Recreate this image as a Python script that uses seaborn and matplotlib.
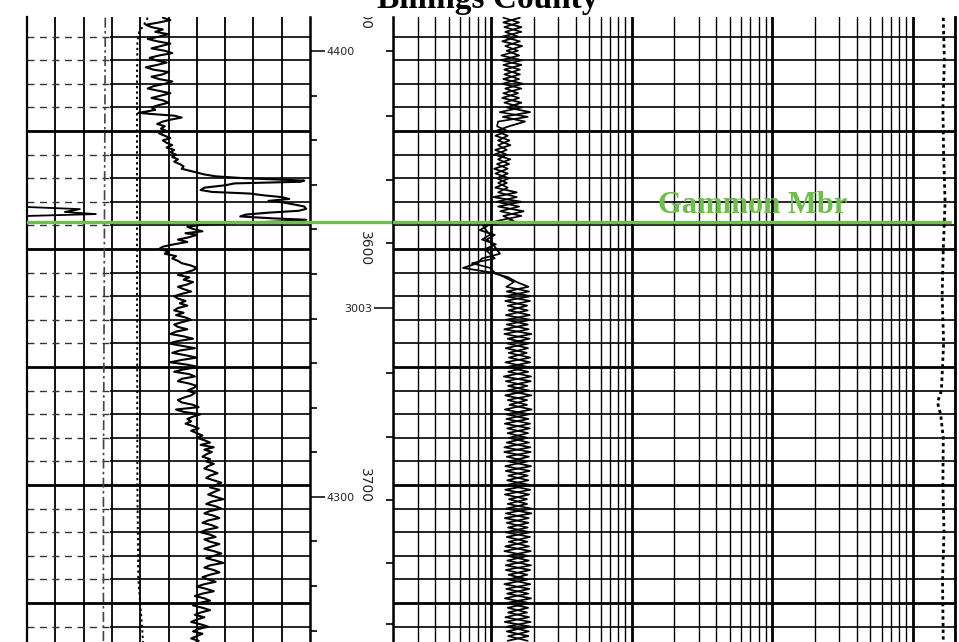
import numpy as np
import pandas as pd
import matplotlib
matplotlib.use("Agg")
import matplotlib.pyplot as plt
from matplotlib.ticker import LogLocator, NullFormatter, FixedLocator, FixedFormatter
import seaborn as sns

# ---------------- log data ----------------
# Gamma ray (API) vs measured depth (ft)
gr_depth = [
    3502, 3503, 3504, 3505, 3506, 3507, 3508, 3509, 3510, 3511,
    3512, 3513, 3514, 3515, 3516, 3517, 3518, 3519, 3520, 3521,
    3522, 3523, 3524, 3525, 3526, 3527, 3528, 3529, 3530, 3531,
    3532, 3533, 3534, 3535, 3536, 3537, 3538, 3539, 3540, 3541,
    3541.8, 3542.3, 3542.8, 3543.5, 3544.3, 3545.2, 3546, 3547, 3548, 3549,
    3550, 3551, 3552, 3553, 3554, 3555, 3556, 3557, 3558, 3559,
    3560, 3561, 3562, 3563, 3564, 3565, 3566, 3566.8, 3567.6, 3568.4,
    3569.2, 3570, 3570.6, 3571, 3571.5, 3572.2, 3573, 3574, 3575, 3575.8,
    3576.5, 3577.3, 3578, 3578.8, 3579.6, 3580.3, 3581.2, 3582, 3583, 3583.8,
    3584.6, 3585.4, 3586.2, 3587, 3587.6, 3588.3, 3589, 3589.8, 3590.6, 3591.5,
    3592.5, 3593.3, 3594, 3595, 3596, 3597, 3598, 3599, 3600, 3601,
    3602, 3603, 3604, 3605, 3606, 3607, 3608, 3609, 3610, 3611,
    3612, 3613, 3614, 3615, 3616, 3617, 3618, 3619, 3620, 3621,
    3622, 3623, 3624, 3625, 3626, 3627, 3628, 3629, 3630, 3631,
    3632, 3633, 3634, 3635, 3636, 3637, 3638, 3639, 3640, 3641,
    3642, 3643, 3644, 3645, 3646, 3647, 3648, 3649, 3650, 3651,
    3652, 3653, 3654, 3655, 3656, 3657, 3658, 3659, 3660, 3661,
    3662, 3663, 3664, 3665, 3666, 3667, 3668, 3669, 3670, 3671,
    3672, 3673, 3674, 3675, 3676, 3677, 3678, 3679, 3680, 3681,
    3682, 3683, 3684, 3685, 3686, 3687, 3688, 3689, 3690, 3691,
    3692, 3693, 3694, 3695, 3696, 3697, 3698, 3699, 3700, 3701,
    3702, 3703, 3704, 3705, 3706, 3707, 3708, 3709, 3710, 3711,
    3712, 3713, 3714, 3715, 3716, 3717, 3718, 3719, 3720, 3721,
    3722, 3723, 3724, 3725, 3726, 3727, 3728, 3729, 3730, 3731,
    3732, 3733, 3734, 3735, 3736, 3737, 3738, 3739, 3740, 3741,
    3742, 3743, 3744, 3745, 3746, 3747, 3748, 3749, 3750, 3751,
    3752, 3753, 3754, 3755, 3756, 3757, 3758, 3759, 3760, 3761,
    3762, 3763, 3764, 3765, 3766, 3767,
]
gr_api = [
    72, 76, 70, 63, 66, 72, 68, 75, 70, 64,
    69, 76, 71, 66, 73, 77, 70, 65, 68, 74,
    69, 63, 67, 75, 72, 66, 70, 77, 73, 67,
    64, 70, 76, 71, 66, 72, 75, 70, 66, 68,
    63, 59, 66, 78, 82, 76, 72, 69, 73, 71,
    74, 70, 73, 76, 72, 74, 77, 74, 78, 76,
    79, 77, 80, 78, 81, 83, 82, 86, 90, 94,
    100, 115, 135, 147, 145, 110, 105, 94, 92, 98,
    118, 126, 135, 139, 128, 136, 142, 147, 148, 144,
    128, 116, 113, 130, 148, 135, 110, 92, 85, 88,
    93, 84, 90, 86, 80, 85, 78, 72, 70, 75,
    73, 79, 77, 80, 82, 87, 90, 88, 84, 80,
    86, 83, 88, 85, 80, 83, 87, 82, 78, 80,
    84, 81, 85, 80, 78, 83, 79, 84, 87, 82,
    78, 80, 85, 79, 76, 83, 88, 80, 75, 82,
    89, 81, 77, 84, 90, 82, 76, 85, 91, 83,
    78, 86, 89, 82, 80, 86, 90, 88, 85, 89,
    87, 83, 80, 82, 88, 91, 79, 83, 92, 88,
    85, 87, 84, 88, 91, 87, 90, 93, 90, 94,
    97, 92, 99, 94, 98, 95, 93, 97, 95, 99,
    96, 94, 98, 101, 97, 95, 99, 103, 100, 97,
    102, 99, 96, 100, 104, 98, 95, 100, 103, 97,
    94, 99, 102, 96, 93, 98, 101, 95, 92, 97,
    100, 94, 97, 102, 98, 94, 99, 103, 99, 95,
    100, 104, 97, 94, 99, 102, 97, 93, 96, 100,
    94, 90, 95, 99, 93, 89, 94, 97, 91, 88,
    93, 97, 92, 89, 94, 90, 87, 92, 96, 91,
    88, 93, 90, 87, 91, 89,
]

# Caliper-type dotted trace and dash-dot trace in the gamma track
cal_depth = [3502, 3505, 3508, 3512, 3530, 3600, 3700, 3740, 3760, 3767]
cal_val = [64, 62, 59.5, 58.5, 58.3, 58.3, 58.5, 59, 61, 61.5]
bs_depth = [3502, 3600, 3700, 3767]
bs_val = [41.5, 41, 40.5, 40.5]

# SP excursion entering from the left edge of the track
sp_depth = [3582.2, 3583.1, 3584.3, 3585.2, 3586.0]
sp_val = [0, 28, 20, 36.5, 0]

# Resistivity (ohm-m), sampled every 2 ft from 3502 to 3766
res_depth = np.arange(3502, 3767, 2)
res_deep = [
    # 3502-3540
    1.60, 1.22, 1.64, 1.26, 1.55, 1.20, 1.66, 1.29, 1.58, 1.18,
    1.64, 1.24, 1.60, 1.22, 1.68, 1.26, 1.55, 1.20, 1.64, 1.29,
    # 3542-3546
    1.89, 1.21, 1.74,
    # 3548-3574
    1.34, 1.08, 1.31, 1.12, 1.37, 1.07, 1.29, 1.12, 1.34, 1.05,
    1.31, 1.10, 1.29, 1.07,
    # 3576-3588
    1.52, 1.04, 1.64, 1.12, 1.70, 1.22, 1.44,
    # 3590-3598
    0.95, 0.83, 1.06, 0.93, 1.03,
    # 3600-3614
    1.09, 1.155, 0.86, 0.80, 0.63, 1.01, 1.32, 1.52,
    # 3616-3766
    1.84, 1.29, 1.90, 1.26, 1.80, 1.33, 1.88, 1.28, 1.82, 1.24,
    1.93, 1.31, 1.85, 1.27, 1.79, 1.34, 1.89, 1.29, 1.83, 1.23,
    1.91, 1.32, 1.86, 1.26, 1.80, 1.35, 1.94, 1.28, 1.84, 1.25,
    1.88, 1.31, 1.81, 1.29, 1.90, 1.24, 1.85, 1.33, 1.92, 1.27,
    1.82, 1.30, 1.89, 1.26, 1.86, 1.34, 1.80, 1.28, 1.93, 1.25,
    1.84, 1.32, 1.88, 1.29, 1.81, 1.26, 1.91, 1.31, 1.85, 1.27,
    1.89, 1.33, 1.82, 1.24, 1.87, 1.30, 1.92, 1.28, 1.83, 1.32,
    1.86, 1.25, 1.90, 1.29, 1.84, 1.31,
]
res_shallow = [
    # 3502-3540
    1.22, 1.58, 1.24, 1.64, 1.20, 1.60, 1.26, 1.55, 1.18, 1.66,
    1.22, 1.60, 1.24, 1.58, 1.20, 1.64, 1.22, 1.58, 1.24, 1.66,
    # 3542-3546
    1.15, 1.82, 1.12,
    # 3548-3574
    1.10, 1.31, 1.07, 1.35, 1.12, 1.29, 1.05, 1.37, 1.10, 1.31,
    1.07, 1.34, 1.12, 1.31,
    # 3576-3588
    1.12, 1.52, 1.09, 1.58, 1.16, 1.64, 1.12,
    # 3590-3598
    0.87, 0.92, 0.98, 0.86, 1.08,
    # 3600-3614
    0.90, 0.98, 1.06, 0.73, 0.98, 1.06, 1.25, 1.45,
    # 3616-3766
    1.28, 1.86, 1.25, 1.89, 1.31, 1.82, 1.27, 1.91, 1.29, 1.85,
    1.24, 1.88, 1.30, 1.83, 1.33, 1.90, 1.26, 1.84, 1.32, 1.92,
    1.27, 1.81, 1.29, 1.93, 1.31, 1.80, 1.25, 1.87, 1.28, 1.89,
    1.30, 1.83, 1.33, 1.86, 1.24, 1.91, 1.29, 1.82, 1.26, 1.88,
    1.32, 1.84, 1.28, 1.90, 1.25, 1.80, 1.31, 1.94, 1.27, 1.85,
    1.29, 1.82, 1.26, 1.89, 1.33, 1.86, 1.24, 1.83, 1.30, 1.92,
    1.27, 1.81, 1.32, 1.90, 1.28, 1.84, 1.25, 1.88, 1.31, 1.80,
    1.26, 1.91, 1.29, 1.85, 1.32, 1.82,
]

# Dotted trace near the right edge of the resistivity track
far_depth = [3502, 3520, 3540, 3560, 3580, 3600, 3620, 3640, 3660, 3665,
             3670, 3680, 3700, 3720, 3740, 3766]
far_val = [1650, 1680, 1640, 1660, 1700, 1650, 1620, 1660, 1600, 1500,
           1580, 1650, 1640, 1670, 1630, 1650]

# Formation top
gammon_top = 3588.6
gammon_label = "Gammon Mbr"
title = "Billings County"

# Depth annotations
depth_marks = [3500, 3600, 3700]
depth_mark_labels = ["3500", "3600", "3700"]
gr_ticks = [3535.0, 3553.9, 3572.8, 3591.7, 3610.6, 3629.5, 3648.3, 3667.2,
            3686.1, 3723.9, 3742.8, 3761.7]
gr_label_ticks = [3516.1, 3705.0]
gr_label_text = ["4400", "4300"]
res_ticks = [3516.1, 3543.6, 3570.8, 3597.5, 3652.5, 3679.7, 3706.4, 3733.0, 3758.9]
res_label_ticks = [3625.0]
res_label_text = ["3003"]

depth_top, depth_bot = 3501.7, 3766.5

# ---------------- figure ----------------
sns.set_theme(style="white")
plt.rcParams["font.family"] = ["DejaVu Sans"]

W, H = 959, 642
fig = plt.figure(figsize=(W / 100, H / 100), dpi=100)
top_px = 17


def rect(x0, x1):
    return [x0 / W, 0, (x1 - x0) / W, (H - top_px) / H]


ax_gr = fig.add_axes(rect(27, 310))
ax_mid = fig.add_axes(rect(310, 393))
ax_res = fig.add_axes(rect(393, 955))
ax_mid.patch.set_visible(False)

green = "#6cbf48"
grid_depths = list(range(3510, 3770, 10))

# ---- gamma ray track ----
gr_df = pd.DataFrame({"depth": gr_depth, "gr": gr_api})
sns.lineplot(data=gr_df, x="gr", y="depth", sort=False, estimator=None,
             orient="y", color="black", lw=1.5, ax=ax_gr, zorder=5)
sns.lineplot(x=cal_val, y=cal_depth, sort=False, estimator=None, orient="y",
             color="black", lw=1.4, linestyle=(0, (1.2, 1.6)), ax=ax_gr, zorder=4)
sns.lineplot(x=bs_val, y=bs_depth, sort=False, estimator=None, orient="y",
             color="#444444", lw=1.2, linestyle=(0, (6, 2, 1.5, 2)), ax=ax_gr, zorder=4)
sns.lineplot(x=sp_val, y=sp_depth, sort=False, estimator=None, orient="y",
             color="black", lw=1.3, ax=ax_gr, zorder=4)

ax_gr.set_xlim(0, 150)
for v in range(15, 150, 15):
    ax_gr.axvline(v, color="black", lw=1.3, zorder=1)
for d in grid_depths:
    if d % 50 == 0:
        ax_gr.axhline(d, color="black", lw=2.0, zorder=1)
    else:
        ax_gr.hlines(d, 0, 44, colors="#333333", lw=1.0, linestyles=[(0, (5, 4))], zorder=1)
        ax_gr.hlines(d, 44, 150, colors="black", lw=1.2, zorder=1)

ax_gr.set_xticks([])
ax_gr.yaxis.tick_right()
ax_gr.yaxis.set_major_locator(FixedLocator(gr_ticks))
ax_gr.yaxis.set_major_formatter(NullFormatter())
ax_gr.yaxis.set_minor_locator(FixedLocator(gr_label_ticks))
ax_gr.yaxis.set_minor_formatter(FixedFormatter(gr_label_text))
ax_gr.tick_params(axis="y", which="major", direction="out", length=5, width=1.2,
                  color="black", right=True, left=False, labelright=False, labelleft=False)
ax_gr.tick_params(axis="y", which="minor", direction="out", length=11, width=1.1,
                  color="black", right=True, left=False, labelright=True, labelleft=False,
                  labelsize=8, pad=1)

# ---- resistivity track ----
ax_res.set_xscale("log")
res_df = pd.DataFrame({"depth": res_depth, "deep": res_deep, "shallow": res_shallow})
sns.lineplot(data=res_df, x="deep", y="depth", sort=False, estimator=None,
             orient="y", color="black", lw=1.3, ax=ax_res, zorder=5)
sns.lineplot(data=res_df, x="shallow", y="depth", sort=False, estimator=None,
             orient="y", color="black", lw=1.2, ax=ax_res, zorder=5)
sns.lineplot(x=far_val, y=far_depth, sort=False, estimator=None, orient="y",
             color="black", lw=2.0, linestyle=(0, (1.2, 1.2)), ax=ax_res, zorder=5)

ax_res.set_xlim(0.2, 2000)
ax_res.xaxis.set_major_locator(LogLocator(base=10, numticks=10))
ax_res.xaxis.set_minor_locator(LogLocator(base=10, subs=np.arange(2, 10), numticks=40))
ax_res.xaxis.set_major_formatter(NullFormatter())
ax_res.xaxis.set_minor_formatter(NullFormatter())
ax_res.grid(True, which="major", axis="x", color="black", lw=2.0, zorder=1)
ax_res.grid(True, which="minor", axis="x", color="black", lw=1.0, zorder=1)
ax_res.tick_params(axis="x", which="both", length=0)
for d in grid_depths:
    ax_res.axhline(d, color="black", lw=2.0 if d % 50 == 0 else 1.2, zorder=1)

ax_res.yaxis.tick_left()
ax_res.yaxis.set_major_locator(FixedLocator(res_ticks))
ax_res.yaxis.set_major_formatter(NullFormatter())
ax_res.yaxis.set_minor_locator(FixedLocator(res_label_ticks))
ax_res.yaxis.set_minor_formatter(FixedFormatter(res_label_text))
ax_res.tick_params(axis="y", which="major", direction="out", length=5, width=1.2,
                   color="black", left=True, right=False, labelleft=False)
ax_res.tick_params(axis="y", which="minor", direction="out", length=14, width=1.1,
                   color="black", left=True, right=False, labelleft=True,
                   labelsize=8, pad=1)

ax_res.text(15.4, gammon_top - 3.9, gammon_label, ha="left", va="baseline",
            fontsize=22, fontweight="bold", family="Liberation Serif",
            color=green, zorder=11)

# ---- depth column ----
ax_mid.set_xlim(0, 1)
ax_mid.set_xticks([])
ax_mid.set_yticks([])
for d, lab in zip(depth_marks, depth_mark_labels):
    ax_mid.text(0.66, d, lab, rotation=270, ha="center", va="center",
                fontsize=10, clip_on=True)

# ---- common styling ----
for ax in (ax_gr, ax_mid, ax_res):
    ax.set_ylim(depth_bot, depth_top)
    ax.set_xlabel("")
    ax.set_ylabel("")
    ax.axhline(gammon_top, color=green, lw=2.4, zorder=10,
               xmax=(950 - 393) / (955 - 393) if ax is ax_res else 1)
    for s in ("top", "bottom"):
        ax.spines[s].set_visible(False)
for s in ("left", "right"):
    ax_mid.spines[s].set_visible(False)
ax_gr.spines["left"].set_linewidth(1.6)
ax_gr.spines["right"].set_linewidth(1.8)
ax_res.spines["left"].set_linewidth(1.8)
ax_res.spines["right"].set_linewidth(2.0)
for ax in (ax_gr, ax_res):
    for s in ("left", "right"):
        ax.spines[s].set_color("black")

fig.text(0.509, 1 - 8 / H, title, ha="center", va="baseline", fontsize=24,
         fontweight="bold", family="Liberation Serif", color="black")

fig.savefig("out.png", dpi=100)
